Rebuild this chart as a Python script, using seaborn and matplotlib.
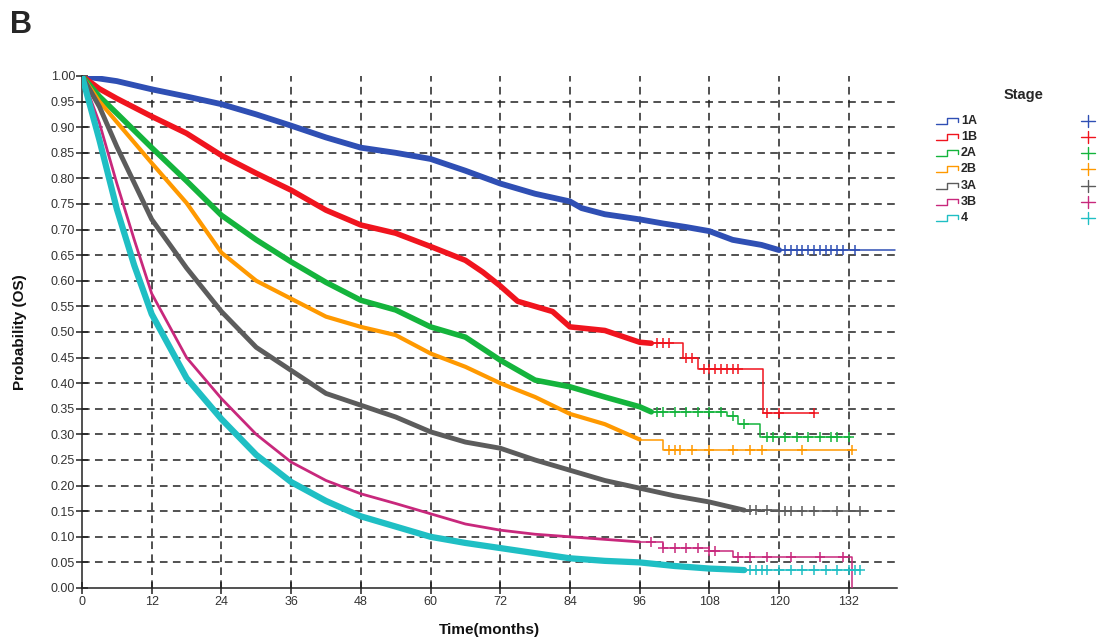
import numpy as np
import pandas as pd
import matplotlib
matplotlib.use('Agg')
import matplotlib.pyplot as plt
from matplotlib.lines import Line2D
import seaborn as sns

# Kaplan-Meier curves (months, survival probability)
stages = ['1A', '1B', '2A', '2B', '3A', '3B', '4']

t_1a = [0, 3, 6, 12, 18, 24, 30, 36, 42, 48, 54, 60, 66, 72, 78, 84, 86, 90, 96, 100, 104, 108, 112, 117, 120, 140]
s_1a = [1.0, 0.995, 0.99, 0.974, 0.96, 0.945, 0.925, 0.903, 0.88, 0.86, 0.85, 0.838, 0.815, 0.79, 0.77, 0.755, 0.742, 0.73, 0.72, 0.712, 0.705, 0.697, 0.68, 0.67, 0.66, 0.66]

t_1b = [0, 3, 6, 12, 18, 24, 30, 36, 42, 48, 54, 60, 66, 69, 72, 75, 78, 81, 84, 90, 96, 98, 103.5, 106, 117.3, 126]
s_1b = [1.0, 0.975, 0.956, 0.921, 0.888, 0.845, 0.81, 0.777, 0.738, 0.709, 0.693, 0.667, 0.64, 0.617, 0.59, 0.56, 0.55, 0.54, 0.51, 0.503, 0.48, 0.478, 0.45, 0.428, 0.342, 0.342]

t_2a = [0, 3, 6, 12, 18, 24, 30, 36, 42, 48, 54, 60, 66, 72, 78, 84, 90, 96, 98, 111, 113, 116.7, 132.2]
s_2a = [1.0, 0.96, 0.927, 0.86, 0.795, 0.728, 0.68, 0.637, 0.597, 0.562, 0.543, 0.51, 0.49, 0.445, 0.406, 0.393, 0.373, 0.354, 0.344, 0.335, 0.32, 0.295, 0.295]

t_2b = [0, 3, 6, 12, 18, 24, 30, 36, 42, 48, 54, 60, 66, 72, 78, 84, 90, 96, 100, 132.5]
s_2b = [1.0, 0.95, 0.91, 0.83, 0.752, 0.655, 0.60, 0.565, 0.53, 0.51, 0.494, 0.458, 0.432, 0.40, 0.373, 0.34, 0.32, 0.29, 0.27, 0.27]

t_3a = [0, 3, 6, 12, 18, 24, 30, 36, 42, 48, 54, 60, 66, 72, 78, 84, 90, 96, 102, 108, 114, 120, 134]
s_3a = [1.0, 0.94, 0.862, 0.72, 0.625, 0.54, 0.47, 0.425, 0.38, 0.357, 0.334, 0.305, 0.285, 0.273, 0.25, 0.23, 0.21, 0.195, 0.18, 0.168, 0.152, 0.15, 0.15]

t_3b = [0, 3, 6, 9, 12, 18, 24, 30, 36, 42, 48, 54, 60, 66, 72, 78, 84, 90, 96, 100, 108, 112, 132.6, 132.6]
s_3b = [1.0, 0.908, 0.79, 0.68, 0.575, 0.45, 0.37, 0.30, 0.246, 0.21, 0.184, 0.165, 0.145, 0.125, 0.113, 0.105, 0.10, 0.095, 0.09, 0.078, 0.073, 0.06, 0.06, 0.0]

t_4 = [0, 3, 6, 9, 12, 18, 24, 30, 36, 42, 48, 54, 60, 66, 72, 78, 84, 90, 96, 102, 108, 114, 134]
s_4 = [1.0, 0.875, 0.74, 0.63, 0.535, 0.41, 0.33, 0.26, 0.207, 0.17, 0.14, 0.12, 0.10, 0.088, 0.078, 0.068, 0.058, 0.053, 0.05, 0.043, 0.038, 0.035, 0.035]

# censored observations in the sparse tails
c_1a = [121, 122, 123, 124, 125, 126, 127, 128, 129, 130, 131, 133]
c_1b = [99, 100, 101, 104, 105, 107, 108, 109, 110, 111, 112, 113, 118, 120, 126]
c_2a = [99, 100, 102, 104, 106, 108, 110, 112, 114, 118, 119, 121, 123, 125, 127, 129, 130, 132]
c_2b = [101, 102, 103, 105, 108, 112, 115, 117, 124, 132.5]
c_3a = [115, 116, 118, 120, 121, 122, 124, 126, 130, 134]
c_3b = [98, 100, 102, 104, 106, 108, 109, 113, 115, 118, 122, 127, 131]
c_4 = [115, 116, 117, 118, 120, 122, 124, 126, 128, 130, 132, 133, 134]

x_ticks = list(range(0, 133, 12))
y_ticks = [round(v * 0.05, 2) for v in range(21)]

times = [t_1a, t_1b, t_2a, t_2b, t_3a, t_3b, t_4]
survs = [s_1a, s_1b, s_2a, s_2b, s_3a, s_3b, s_4]
cens = [c_1a, c_1b, c_2a, c_2b, c_3a, c_3b, c_4]

colors = ['#2f4fb4', '#f0141e', '#14b43c', '#ff9900', '#5c5c5c', '#c8287c', '#1fbfc4']
split = [120, 98, 98, 96, 114, 96, 114]   # where dense band turns into steps
widths = [4.2, 4.0, 4.0, 3.0, 3.5, 2.0, 4.5]

sns.set_theme(style='white')
plt.rcParams['font.family'] = ['Liberation Sans', 'DejaVu Sans']

fig = plt.figure(figsize=(11, 6.41), dpi=100)
ax = fig.add_axes([82 / 1100, 53 / 641, 815 / 1100, 512 / 641])

# dashed grid, drawn first
for xv in x_ticks[1:]:
    ax.axvline(xv, color='#222222', lw=1.1, ls=(0, (5, 3.5)), zorder=0)
for yv in y_ticks[1:-1]:
    ax.axhline(yv, color='#222222', lw=1.1, ls=(0, (5, 3.5)), zorder=0)

for stage, t, s, c, col, sp, lw in zip(stages, times, survs, cens, colors, split, widths):
    df = pd.DataFrame({'time': t, 'surv': s})
    dense = df[df.time <= sp]
    tail = df[df.time >= sp]
    sns.lineplot(data=dense, x='time', y='surv', ax=ax, color=col, lw=lw,
                 estimator=None, sort=False, zorder=3)
    sns.lineplot(data=tail, x='time', y='surv', ax=ax, color=col, lw=1.1,
                 estimator=None, sort=False, drawstyle='steps-post', zorder=3)
    t_arr = np.array(t)
    s_arr = np.array(s)
    idx = np.searchsorted(t_arr, np.array(c), side='right') - 1
    cy = s_arr[np.clip(idx, 0, len(s_arr) - 1)]
    sns.scatterplot(x=c, y=cy, ax=ax, marker='+', s=60, color=col, linewidth=1.1, zorder=4)

ax.set_xlim(0, 140.3)
ax.set_ylim(0, 1.0)
ax.set_xticks(x_ticks)
ax.set_yticks(y_ticks)
ax.set_yticklabels(['%.2f' % v for v in y_ticks])
ax.tick_params(axis='both', direction='inout', length=8, width=1.1, color='#222222',
               labelsize=9, labelcolor='#333333', left=True, bottom=True)
ax.tick_params(axis='x', pad=2)
ax.tick_params(axis='y', pad=1)
for side in ['top', 'right']:
    ax.spines[side].set_visible(False)
for side in ['left', 'bottom']:
    ax.spines[side].set_color('#222222')
    ax.spines[side].set_linewidth(1.1)

ax.set_xlabel('Time(months)', fontsize=11, fontweight='bold', color='#111111')
ax.set_ylabel('Probability (OS)', fontsize=11, fontweight='bold', color='#111111')
ax.xaxis.set_label_coords(0.5, -0.068)
ax.yaxis.set_label_coords(-0.068, 0.5)

# panel letter
fig.text(10 / 1100, 1 - 25 / 641, 'B', fontsize=22, fontweight='bold', va='center', ha='left')

# legend built by hand, SPSS style
fig.text(1024 / 1100, 1 - 95 / 641, 'Stage', fontsize=10.5, fontweight='bold', ha='center', va='center')
row_y = [121, 137, 153, 169, 186, 202, 218]
for stage, col, ry in zip(stages, colors, row_y):
    xs = np.array([936, 947, 947, 958, 958]) / 1100
    ys = 1 - np.array([ry + 3, ry + 3, ry - 3, ry - 3, ry + 1]) / 641
    fig.add_artist(Line2D(xs, ys, color=col, lw=1.0, transform=fig.transFigure))
    fig.text(961 / 1100, 1 - ry / 641, stage, fontsize=9, fontweight='bold', ha='left', va='center')
    fig.add_artist(Line2D([1081 / 1100, 1095 / 1100], [1 - ry / 641, 1 - ry / 641],
                          color=col, lw=1.0, transform=fig.transFigure))
    fig.add_artist(Line2D([1088 / 1100, 1088 / 1100], [1 - (ry - 6) / 641, 1 - (ry + 6) / 641],
                          color=col, lw=1.0, transform=fig.transFigure))

plt.savefig('out.png', dpi=100)
